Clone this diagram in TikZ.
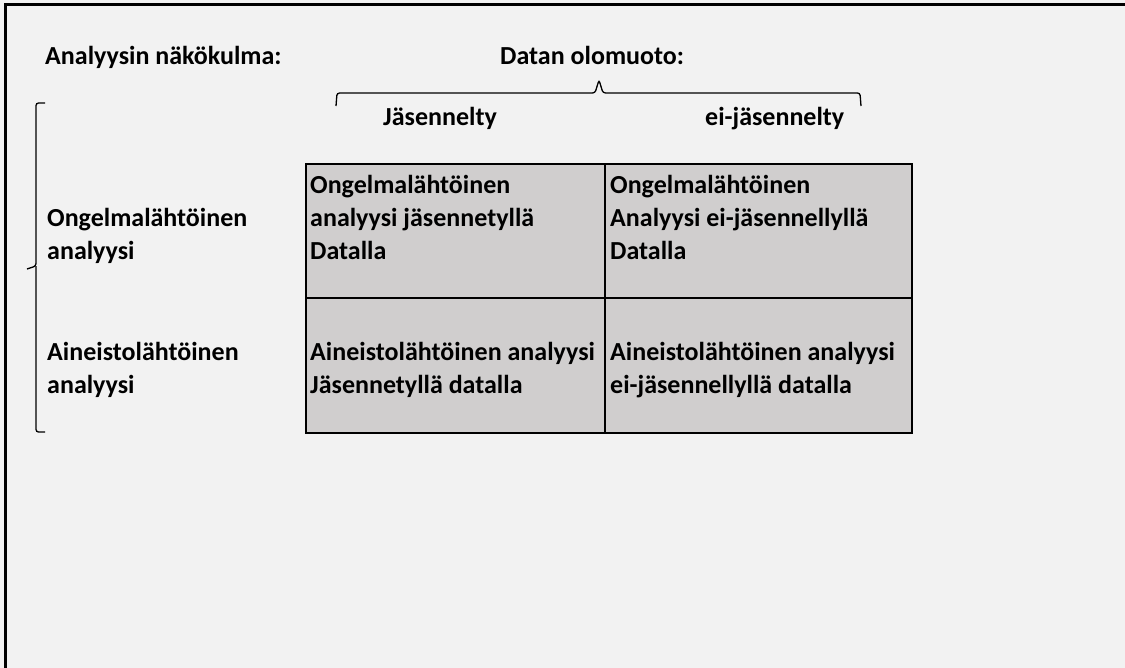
\documentclass[tikz,border=0pt]{standalone}
\usepackage{fontspec}
\setmainfont{Carlito}
\definecolor{pagebg}{HTML}{F2F2F2}
\definecolor{cellgray}{HTML}{D0CECE}
\begin{document}
\begin{tikzpicture}[x=1pt,y=-1pt,
  % base anchor of a multi-line label sits on its last line
  lbl/.style={anchor=base west, inner sep=0pt, align=left,
    font=\fontsize{26}{33}\selectfont\bfseries},
  gridline/.style={draw=black, line width=2pt},
  bracket/.style={draw=black, line width=1.3pt, rounded corners=2.5pt}]
% page and frame (the fill overshoots the page so no edge stays bare)
\useasboundingbox (0,0) rectangle (1125,667);
\fill[pagebg] (-6,-6) rectangle (1131,673);
\draw[line width=2.4pt] (5.3,673) -- (5.3,4.3) -- (1131,4.3);

% headings
\node[lbl] (view) at (45,64) {Analyysin näkökulma:};
\node[lbl] (form) at (500,64) {Datan olomuoto:};
\node[lbl] (struct) at (383,125) {Jäsennelty};
\node[lbl] (unstruct) at (705,125) {ei-jäsennelty};

% brace over the two columns
\draw[bracket] (336,106) -- (337,93) -- (595,93) -- (599,80) -- (603,93) -- (860,93) -- (861,106);
% brace beside the two rows
\draw[bracket] (45,103) -- (36,103) -- (36,266) -- (27,269);
\draw[bracket] (36,266) -- (36,432) -- (45,432);

% row labels
\node[lbl] (rowA) at (47,259) {Ongelmalähtöinen\\analyysi};
\node[lbl] (rowB) at (47,393) {Aineistolähtöinen\\analyysi};

% table
\fill[cellgray] (306,164) rectangle (912,433);
\draw[gridline] (306,164) rectangle (912,433);
\draw[gridline] (605,164) -- (605,433);
\draw[gridline] (306,298) -- (912,298);

\node[lbl] (c11) at (310,259) {Ongelmalähtöinen\\analyysi jäsennetyllä\\Datalla};
\node[lbl] (c12) at (610,259) {Ongelmalähtöinen\\Analyysi ei-jäsennellyllä\\Datalla};
\node[lbl] (c21) at (310,393) {Aineistolähtöinen analyysi\\Jäsennetyllä datalla};
\node[lbl] (c22) at (610,393) {Aineistolähtöinen analyysi\\ei-jäsennellyllä datalla};
\end{tikzpicture}
\end{document}
